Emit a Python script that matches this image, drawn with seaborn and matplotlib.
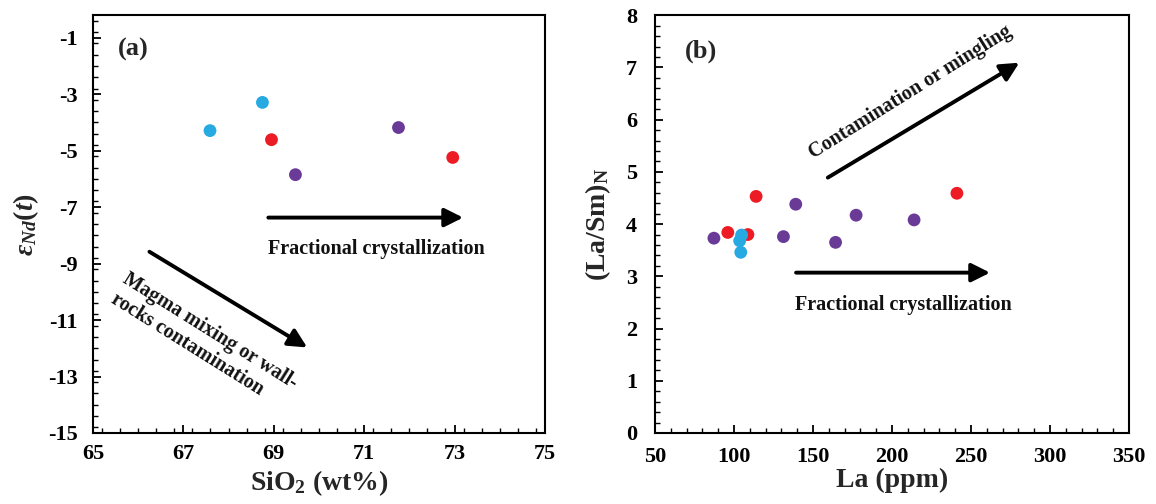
import matplotlib
matplotlib.use('Agg')
import matplotlib.pyplot as plt
import seaborn as sns
import numpy as np
import pandas as pd
from matplotlib.ticker import MultipleLocator

# dane
groups = ['group 1', 'group 2', 'group 3']
colors = {'group 1': '#ED1C24', 'group 2': '#6A3A97', 'group 3': '#27AAE1'}

# panel (a): SiO2 vs eNd(t)
sio2_g1 = [68.95, 72.96]
end_g1 = [-4.61, -5.24]
sio2_g2 = [69.48, 71.76]
end_g2 = [-5.85, -4.18]
sio2_g3 = [67.59, 68.75]
end_g3 = [-4.29, -3.29]

# panel (b): La vs (La/Sm)N
la_g1 = [96.1, 108.8, 114.0, 241.1]
lasm_g1 = [3.84, 3.80, 4.53, 4.59]
la_g2 = [87.3, 131.3, 139.1, 164.3, 177.3, 214.0]
lasm_g2 = [3.73, 3.76, 4.38, 3.65, 4.17, 4.08]
la_g3 = [104.8, 103.6, 104.3]
lasm_g3 = [3.79, 3.68, 3.46]

dfa = pd.DataFrame({
    'sio2': sio2_g1 + sio2_g2 + sio2_g3,
    'end': end_g1 + end_g2 + end_g3,
    'group': [groups[0]] * len(sio2_g1) + [groups[1]] * len(sio2_g2) + [groups[2]] * len(sio2_g3),
})
dfb = pd.DataFrame({
    'la': la_g1 + la_g2 + la_g3,
    'lasm': lasm_g1 + lasm_g2 + lasm_g3,
    'group': [groups[0]] * len(la_g1) + [groups[1]] * len(la_g2) + [groups[2]] * len(la_g3),
})

sns.set_style('white')
plt.rcParams['font.family'] = ['Liberation Serif', 'DejaVu Serif']
plt.rcParams['font.weight'] = 'bold'
plt.rcParams['axes.labelweight'] = 'bold'
plt.rcParams['axes.unicode_minus'] = False
plt.rcParams['mathtext.fontset'] = 'custom'
plt.rcParams['mathtext.rm'] = 'Liberation Serif:bold'
plt.rcParams['mathtext.bf'] = 'Liberation Serif:bold'
plt.rcParams['mathtext.it'] = 'Liberation Serif:italic:bold'

fig = plt.figure(figsize=(11.56, 5.04), dpi=100)
ax1 = fig.add_axes([0.0804, 0.1409, 0.391, 0.829])
ax2 = fig.add_axes([0.5666, 0.1409, 0.410, 0.829])

arrow = dict(arrowstyle='-|>', lw=2.8, color='black', mutation_scale=28, shrinkA=0, shrinkB=0)
txt = dict(fontsize=14.5, fontweight='bold', color='#111111')


def style_axes(ax, xpad, ypad):
    for s in ax.spines.values():
        s.set_color('black')
        s.set_linewidth(1.5)
    ax.tick_params(which='both', direction='in', top=False, right=False, left=True, bottom=True,
                   colors='black', labelsize=16)
    ax.tick_params(which='major', length=6, width=1.3)
    ax.tick_params(which='minor', length=3.5, width=1.0)
    ax.tick_params(axis='x', which='major', pad=xpad)
    ax.tick_params(axis='y', which='major', pad=ypad)
    for lab in ax.get_xticklabels() + ax.get_yticklabels():
        lab.set_fontweight('bold')


# panel (a)
sns.scatterplot(data=dfa, x='sio2', y='end', hue='group', palette=colors, s=85,
                edgecolor='none', legend=False, ax=ax1, zorder=3)
ax1.set_xlim(65, 75)
ax1.set_ylim(-15, -0.2)
ax1.set_xticks(np.arange(65, 76, 2))
ax1.set_yticks(np.arange(-15, 0, 2))
ax1.xaxis.set_minor_locator(MultipleLocator(0.4))
ax1.yaxis.set_minor_locator(MultipleLocator(0.4))
ax1.set_xlabel('SiO$_2$ (wt%)', fontsize=20, fontweight='bold', labelpad=3)
ax1.set_ylabel(r'$\varepsilon_{Nd}(t)$', fontsize=20, labelpad=5)
style_axes(ax1, 8, 11)

ax1.text(65.9, -1.43, '(a)', fontsize=19, fontweight='bold', ha='center', va='center')
ax1.annotate('', xy=(73.19, -7.37), xytext=(68.88, -7.37), arrowprops=arrow)
ax1.text(68.87, -8.5, 'Fractional crystallization', ha='left', va='center', **txt)
ax1.annotate('', xy=(69.74, -11.97), xytext=(66.25, -8.58), arrowprops=arrow)
ax1.text(67.46, -11.76, 'Magma mixing or wall-\nrocks contamination', ha='center', va='center',
         multialignment='left', rotation=-32, rotation_mode='anchor', linespacing=1.25, **txt)

# panel (b)
sns.scatterplot(data=dfb, x='la', y='lasm', hue='group', palette=colors, s=85,
                edgecolor='none', legend=False, ax=ax2, zorder=3)
ax2.set_xlim(50, 350)
ax2.set_ylim(0, 8)
ax2.set_xticks(np.arange(50, 351, 50))
ax2.set_yticks(np.arange(0, 9, 1))
ax2.xaxis.set_minor_locator(MultipleLocator(10))
ax2.yaxis.set_minor_locator(MultipleLocator(0.2))
ax2.set_xlabel('La (ppm)', fontsize=20, fontweight='bold', labelpad=1)
ax2.set_ylabel('(La/Sm)$_\\mathrm{N}$', fontsize=20, fontweight='bold', labelpad=9)
style_axes(ax2, 10, 13)

ax2.text(79.1, 7.30, '(b)', fontsize=19, fontweight='bold', ha='center', va='center')
ax2.annotate('', xy=(262.1, 3.07), xytext=(139.3, 3.07), arrowprops=arrow)
ax2.text(138.9, 2.45, 'Fractional crystallization', ha='left', va='center', **txt)
ax2.annotate('', xy=(280.6, 7.09), xytext=(159.4, 4.89), arrowprops=arrow)
ax2.text(211.8, 6.53, 'Contamination or mingling', ha='center', va='center',
         rotation=32, rotation_mode='anchor', **txt)

plt.savefig('out.png', dpi=100)
